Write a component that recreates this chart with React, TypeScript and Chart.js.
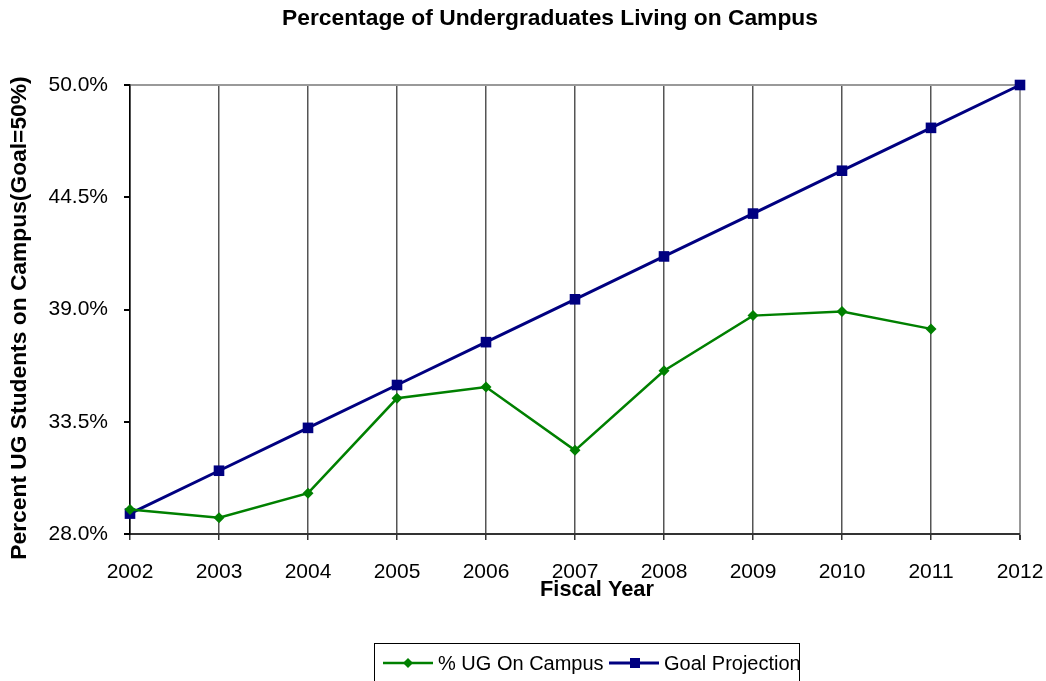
import React, { useEffect, useRef } from "react";
import { Chart, registerables } from "chart.js";

Chart.register(...registerables);

const years = ["2002", "2003", "2004", "2005", "2006", "2007", "2008", "2009", "2010", "2011", "2012"];
const ugOnCampus = [29.2, 28.8, 30.0, 34.65, 35.2, 32.1, 36.0, 38.7, 38.9, 38.05, null];
const goalProjection = [29.0, 31.1, 33.2, 35.3, 37.4, 39.5, 41.6, 43.7, 45.8, 47.9, 50.0];
const yTicks = [28.0, 33.5, 39.0, 44.5, 50.0];

const chartTitle = "Percentage of Undergraduates Living on Campus";
const xTitle = "Fiscal Year";
const yTitle = "Percent UG Students on Campus(Goal=50%)";
const seriesNames = ["% UG On Campus", "Goal Projection"];

const GREEN = "#008000";
const NAVY = "#000080";
const FONT = "'Liberation Sans', Arial, sans-serif";

const decorPlugin = {
  id: "decor",
  afterDraw(chart: any) {
    const ctx = chart.ctx;
    ctx.save();
    ctx.fillStyle = "#000";
    ctx.font = `bold 22.8px ${FONT}`;
    ctx.textAlign = "center";
    ctx.textBaseline = "middle";
    ctx.fillText(chartTitle, 550, 19);
    ctx.font = `bold 21.8px ${FONT}`;
    ctx.fillText(xTitle, 597, 590);
    ctx.save();
    ctx.translate(20, 318);
    ctx.rotate(-Math.PI / 2);
    ctx.font = `bold 22.8px ${FONT}`;
    ctx.fillText(yTitle, 0, 0);
    ctx.restore();

    ctx.strokeStyle = "#000";
    ctx.lineWidth = 1;
    ctx.strokeRect(374.5, 643.5, 425, 60);
    const ly = 663;
    ctx.lineWidth = 2.5;
    ctx.strokeStyle = GREEN;
    ctx.beginPath();
    ctx.moveTo(383, ly);
    ctx.lineTo(433, ly);
    ctx.stroke();
    ctx.fillStyle = GREEN;
    ctx.beginPath();
    ctx.moveTo(408, ly - 5);
    ctx.lineTo(413, ly);
    ctx.lineTo(408, ly + 5);
    ctx.lineTo(403, ly);
    ctx.closePath();
    ctx.fill();
    ctx.lineWidth = 3;
    ctx.strokeStyle = NAVY;
    ctx.beginPath();
    ctx.moveTo(609, ly);
    ctx.lineTo(659, ly);
    ctx.stroke();
    ctx.fillStyle = NAVY;
    ctx.fillRect(630, ly - 5, 10, 10);
    ctx.fillStyle = "#000";
    ctx.font = `20px ${FONT}`;
    ctx.textAlign = "left";
    ctx.fillText(seriesNames[0], 438, ly + 1);
    ctx.fillText(seriesNames[1], 664, ly + 1);
    ctx.restore();
  },
};

export default function App() {
  const ref = useRef<HTMLCanvasElement>(null);
  useEffect(() => {
    if (!ref.current) return;
    const chart = new Chart(ref.current, {
      type: "line",
      data: {
        labels: years,
        datasets: [
          {
            label: seriesNames[0],
            data: ugOnCampus,
            borderColor: GREEN,
            backgroundColor: GREEN,
            borderWidth: 2.5,
            pointStyle: "rectRot",
            pointRadius: 5.5,
            pointHoverRadius: 5.5,
            pointBorderWidth: 0,
            tension: 0,
            clip: false,
          },
          {
            label: seriesNames[1],
            data: goalProjection,
            borderColor: NAVY,
            backgroundColor: NAVY,
            borderWidth: 3,
            pointStyle: "rect",
            pointRadius: 7.5,
            pointHoverRadius: 7.5,
            pointBorderWidth: 0,
            tension: 0,
            clip: false,
          },
        ],
      },
      options: {
        animation: false,
        responsive: false,
        layout: { padding: { top: 85, right: 26, left: 0, bottom: 0 } },
        plugins: {
          legend: { display: false },
          title: { display: false },
          tooltip: { enabled: false },
        },
        scales: {
          x: {
            offset: false,
            afterFit: (s: any) => {
              s.height = 147;
              s.paddingLeft = 0;
              s.paddingRight = 0;
            },
            grid: {
              color: (c: any) => (c.index === years.length - 1 ? "#999" : "#555"),
              lineWidth: (c: any) => (c.index === years.length - 1 ? 2 : 1.5),
              tickColor: "#333",
              tickLength: 6,
            },
            border: { color: "#333", width: 2 },
            ticks: {
              color: "#000",
              font: { family: FONT, size: 21 },
              padding: 20,
              maxRotation: 0,
            },
          },
          y: {
            min: 28,
            max: 50,
            afterFit: (s: any) => {
              s.width = 130;
              s.paddingTop = 0;
              s.paddingBottom = 0;
            },
            afterBuildTicks: (s: any) => {
              s.ticks = yTicks.map((v) => ({ value: v }));
            },
            grid: {
              color: (c: any) => (c.tick && c.tick.value === 50 ? "#999" : "rgba(0,0,0,0)"),
              lineWidth: 2,
              tickColor: "#000",
              tickLength: 6,
            },
            border: { color: "#000", width: 1.5 },
            ticks: {
              color: "#000",
              font: { family: FONT, size: 21 },
              padding: 16,
              callback: (v: any) => Number(v).toFixed(1) + "%",
            },
          },
        },
      },
      plugins: [decorPlugin],
    });
    return () => chart.destroy();
  }, []);
  return (
    <div style={{ position: "fixed", left: 0, top: 0, width: 1046, height: 681, background: "#fff" }}>
      <canvas ref={ref} width={1046} height={681} style={{ width: 1046, height: 681, display: "block" }} />
    </div>
  );
}
